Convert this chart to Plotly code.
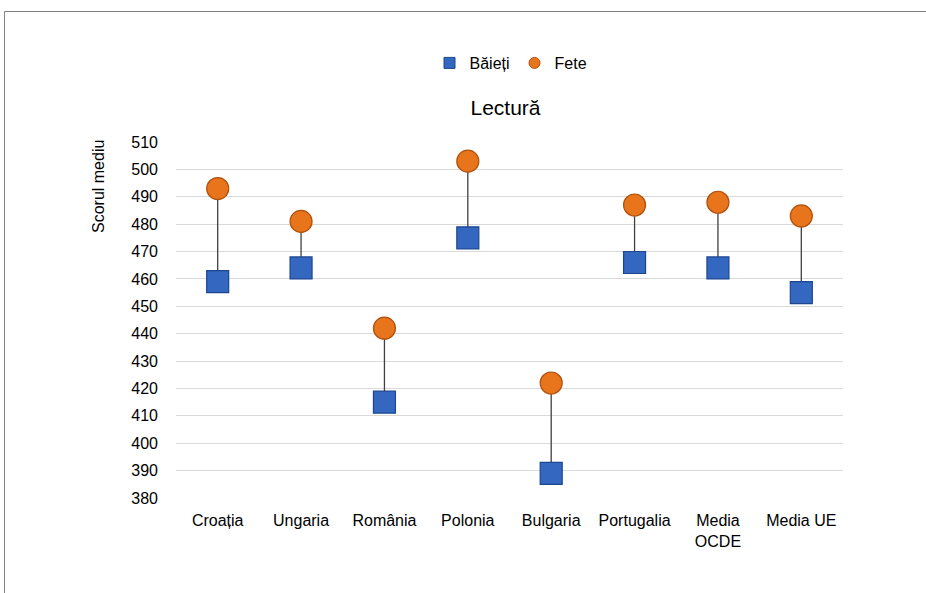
import plotly.graph_objects as go

categories = ["Croația", "Ungaria", "România", "Polonia", "Bulgaria", "Portugalia", "Media<br>OCDE", "Media UE"]
baieti = [459, 464, 415, 475, 389, 466, 464, 455]
fete = [493, 481, 442, 503, 422, 487, 488, 483]
y_ticks = list(range(380, 511, 10))

FONT = "Liberation Sans, Arial, sans-serif"
BLUE, BLUE_EDGE = "#3367c0", "#1d4690"
ORANGE, ORANGE_EDGE = "#e8741c", "#b0500c"

fig = go.Figure()

# high-low connector lines
lx, ly = [], []
for c, b, f in zip(categories, baieti, fete):
    lx += [c, c, None]
    ly += [b, f, None]
fig.add_trace(go.Scatter(x=lx, y=ly, mode="lines", line=dict(color="#404040", width=1.3),
                         showlegend=False, hoverinfo="skip"))

fig.add_trace(go.Scatter(x=categories, y=baieti, mode="markers", name="Băieți", showlegend=False,
                         marker=dict(symbol="square", size=22, color=BLUE,
                                     line=dict(color=BLUE_EDGE, width=1.2))))
fig.add_trace(go.Scatter(x=categories, y=fete, mode="markers", name="Fete", showlegend=False,
                         marker=dict(symbol="circle", size=22, color=ORANGE,
                                     line=dict(color=ORANGE_EDGE, width=1.2))))
# legend entries (small icons as in the original)
fig.add_trace(go.Scatter(x=[None], y=[None], mode="markers", name="Băieți",
                         marker=dict(symbol="square", size=11, color=BLUE,
                                     line=dict(color=BLUE_EDGE, width=1))))
fig.add_trace(go.Scatter(x=[None], y=[None], mode="markers", name="Fete",
                         marker=dict(symbol="circle", size=11, color=ORANGE,
                                     line=dict(color=ORANGE_EDGE, width=1))))

fig.update_layout(
    width=926, height=593,
    margin=dict(l=176, r=83, t=142, b=95),
    paper_bgcolor="white", plot_bgcolor="white",
    font=dict(family=FONT, size=16, color="#000000"),
    title=dict(text="Lectură", x=505.5 / 926, xanchor="center",
               y=1 - 108 / 593, yanchor="middle", font=dict(size=21, color="#000000")),
    legend=dict(orientation="h", x=(511 - 176) / 667, xanchor="center", y=(498 - 63) / 356,
                yanchor="middle", font=dict(size=16), itemwidth=30, tracegroupgap=0),
    showlegend=True,
)
fig.update_xaxes(type="category", range=[-0.5, len(categories) - 0.5], showgrid=False,
                 showline=False, zeroline=False, ticks="", ticklabelstandoff=11,
                 tickfont=dict(size=16))
fig.update_yaxes(range=[380, 510], tickvals=y_ticks, showgrid=True, gridcolor="#d9d9d9",
                 gridwidth=1, zeroline=False, showline=False, ticks="",
                 ticklabelstandoff=17, tickfont=dict(size=16))

fig.add_annotation(text="Scorul mediu", xref="paper", yref="paper",
                   x=(98 - 176) / 667, y=(498 - 187) / 356, textangle=-90,
                   showarrow=False, font=dict(size=16), xanchor="center", yanchor="middle")

# outer chart frame
fig.add_shape(type="rect", xref="paper", yref="paper",
              x0=(4.5 - 176) / 667, x1=2, y0=-1, y1=(498 - 11.5) / 356,
              line=dict(color="#808080", width=1), fillcolor="rgba(0,0,0,0)", layer="below")

fig.write_html("out.html", config={"displayModeBar": False},
               post_script="document.body.style.margin='0';document.body.style.overflow='hidden';")
